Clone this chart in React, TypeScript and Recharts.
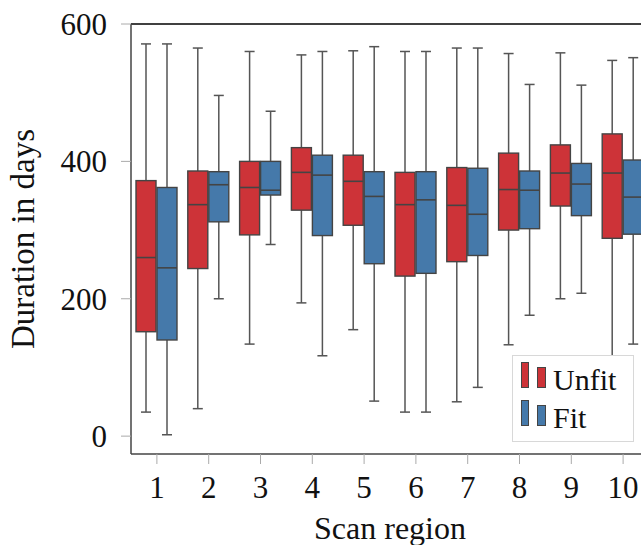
import { ComposedChart, Bar, XAxis, YAxis, ReferenceLine, Label } from 'recharts';

// Scan regions on the x axis
const regions = ['1', '2', '3', '4', '5', '6', '7', '8', '9', '10'];

// Unfit: five-number summary per region (days)
const unfitMin = [35, 40, 134, 194, 155, 35, 50, 133, 200, 90];
const unfitQ1 = [152, 244, 293, 329, 307, 233, 254, 300, 335, 288];
const unfitMedian = [260, 337, 362, 384, 371, 337, 336, 359, 383, 383];
const unfitQ3 = [372, 386, 400, 420, 409, 384, 391, 412, 424, 440];
const unfitMax = [571, 565, 560, 555, 561, 560, 565, 557, 558, 547];

// Fit: five-number summary per region (days)
const fitMin = [2, 200, 279, 117, 51, 35, 71, 176, 208, 134];
const fitQ1 = [140, 312, 351, 292, 251, 237, 263, 302, 321, 294];
const fitMedian = [245, 366, 358, 380, 349, 344, 323, 358, 367, 348];
const fitQ3 = [362, 385, 400, 409, 385, 385, 390, 386, 397, 402];
const fitMax = [571, 496, 473, 560, 567, 560, 565, 512, 511, 551];

const yTicks = [0, 200, 400, 600];

const FONT = "'Liberation Serif', 'DejaVu Serif', serif";
const EDGE = '#444444';
const WHISKER = '#555555';

type Stats = { min: number; q1: number; median: number; q3: number; max: number };

const series = [
  { key: 'unfit', name: 'Unfit', color: '#CD3338', min: unfitMin, q1: unfitQ1, median: unfitMedian, q3: unfitQ3, max: unfitMax },
  { key: 'fit', name: 'Fit', color: '#4579AA', min: fitMin, q1: fitQ1, median: fitMedian, q3: fitQ3, max: fitMax },
];

// each row carries a [min, max] range for the bar plus the full stats for the box shape
const rows = regions.map((region, i) => {
  const row: Record<string, any> = { region };
  series.forEach((s) => {
    row[s.key] = [s.min[i], s.max[i]];
    row[s.key + 'Stats'] = { min: s.min[i], q1: s.q1[i], median: s.median[i], q3: s.q3[i], max: s.max[i] };
  });
  return row;
});

function BoxShape(props: any) {
  const { x, y, width, height, stats, color } = props;
  const { min, q1, median, q3, max } = stats as Stats;
  // map a value into the pixel span the bar got for [min, max]
  const toY = (v: number) => y + (height * (max - v)) / (max - min);
  const cx = x + width / 2;
  const cap = width / 4;
  return (
    <g>
      <line x1={cx} x2={cx} y1={toY(max)} y2={toY(q3)} stroke={WHISKER} strokeWidth={1.5} />
      <line x1={cx} x2={cx} y1={toY(q1)} y2={toY(min)} stroke={WHISKER} strokeWidth={1.5} />
      <line x1={cx - cap} x2={cx + cap} y1={toY(max)} y2={toY(max)} stroke={WHISKER} strokeWidth={1.5} />
      <line x1={cx - cap} x2={cx + cap} y1={toY(min)} y2={toY(min)} stroke={WHISKER} strokeWidth={1.5} />
      <rect x={x} y={toY(q3)} width={width} height={toY(q1) - toY(q3)} fill={color} stroke={EDGE} strokeWidth={1.4} />
      <line x1={x} x2={x + width} y1={toY(median)} y2={toY(median)} stroke={EDGE} strokeWidth={1.6} />
    </g>
  );
}

function YLabel({ viewBox }: any) {
  const cx = viewBox.x + 34;
  const cy = viewBox.y + viewBox.height / 2;
  return (
    <text x={cx} y={cy} transform={`rotate(-90 ${cx} ${cy})`} textAnchor="middle" fontFamily={FONT} fontSize={33} fill="#111">
      Duration in days
    </text>
  );
}

function BoxLegend() {
  return (
    <div
      style={{
        position: 'absolute', left: 512, top: 355, width: 120, height: 85,
        border: '1px solid #d8d8d8', background: '#fff', fontFamily: FONT,
      }}
    >
      {series.map((s, i) => (
        <div key={s.key} style={{ position: 'absolute', left: 0, top: 6 + i * 38, width: 120, height: 38 }}>
          <div style={{ position: 'absolute', left: 8, top: 0, width: 6, height: 24, background: s.color, border: `1px solid ${EDGE}` }} />
          <div style={{ position: 'absolute', left: 24, top: 5, width: 7, height: 19, background: s.color, border: `1px solid ${EDGE}` }} />
          <div style={{ position: 'absolute', left: 40, top: 3, fontSize: 30, lineHeight: '30px', color: '#111' }}>{s.name}</div>
        </div>
      ))}
    </div>
  );
}

export default function App() {
  const tick = { fontFamily: FONT, fontSize: 31, fill: '#111' };
  return (
    <div style={{ position: 'fixed', left: 0, top: 0, width: 641, height: 545, overflow: 'hidden', background: '#fff' }}>
      <ComposedChart
        width={660}
        height={545}
        data={rows}
        margin={{ top: 24, right: 11, bottom: 0, left: 0 }}
        barSize={20}
        barGap={1}
      >
        <XAxis
          dataKey="region"
          height={91}
          interval={0}
          tickSize={10}
          tickMargin={12}
          tick={tick}
          axisLine={{ stroke: EDGE, strokeWidth: 1.5 }}
          tickLine={{ stroke: '#aaaaaa' }}
        >
          <Label value="Scan region" position="insideBottom" offset={6} style={{ fontFamily: FONT, fontSize: 32, fill: '#111' }} />
        </XAxis>
        <YAxis
          type="number"
          domain={[-26, 600]}
          ticks={yTicks}
          allowDataOverflow
          width={131}
          tickSize={10}
          tickMargin={14}
          tick={tick}
          axisLine={{ stroke: EDGE, strokeWidth: 1.5 }}
          tickLine={{ stroke: '#aaaaaa' }}
        >
          <Label content={YLabel} />
        </YAxis>
        <ReferenceLine y={600} stroke="#000" strokeWidth={1.5} />
        {series.map((s) => (
          <Bar
            key={s.key}
            dataKey={s.key}
            name={s.name}
            fill={s.color}
            isAnimationActive={false}
            shape={(p: any) => <BoxShape {...p} stats={p.payload[s.key + 'Stats']} color={s.color} />}
          />
        ))}
      </ComposedChart>
      <BoxLegend />
    </div>
  );
}
